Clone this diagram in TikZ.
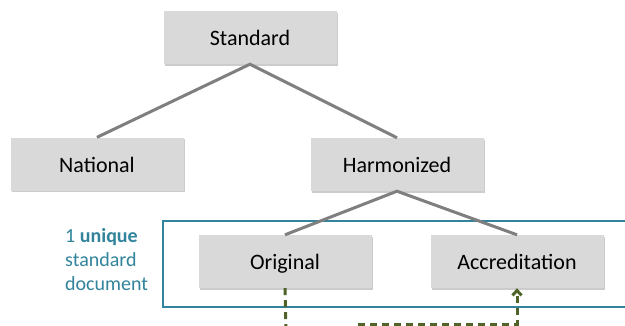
\documentclass[tikz,border=0pt]{standalone}
\usepackage{fontspec}
\setmainfont{Carlito}
\usepackage{tikz}
\usetikzlibrary{arrows.meta, shadows, positioning}
\definecolor{boxfill}{HTML}{D9D9D9}
\definecolor{linkgray}{HTML}{7F7F7F}
\definecolor{frameblue}{HTML}{31849B}
\definecolor{dashgreen}{HTML}{4F6228}

\begin{document}
\begin{tikzpicture}[x=1pt, y=-1pt,
    levelbox/.style={fill=boxfill, minimum width=173pt, minimum height=53pt,
        inner sep=0pt, text height=18pt, text depth=2pt, font=\fontsize{22}{26}\selectfont,
        drop shadow={shadow xshift=1pt, shadow yshift=-1.5pt, fill=black, opacity=0.2}},
    link/.style={linkgray, line width=3pt},
    flow/.style={dashgreen, line width=3pt, dash pattern=on 7pt off 5pt}]
    % Canvas
    \clip (0,0) rectangle (625,325);
    \fill[white] (0,0) rectangle (625,325);
    % Frame round the one standard document
    \draw[frameblue, line width=2pt] (163,221) rectangle (660,307);
    \node[frameblue, align=left, anchor=north west, inner sep=0pt,
        font=\fontsize{20}{24}\selectfont] (note) at (65,228)
        {1 \textbf{unique}\\standard\\document};
    % Boxes
    \node[levelbox] (standard) at (250,37.5) {Standard};
    \node[levelbox] (national) at (97,164) {National};
    \node[levelbox] (harmonized) at (397,164.5) {Harmonized};
    \node[levelbox] (original) at (285,261.5) {Original};
    \node[levelbox] (accreditation) at (517,261.5) {Accreditation};
    % Tree links
    \draw[link] (national.north) -- (standard.south) -- (harmonized.north);
    \draw[link] (original.north) -- (harmonized.south) -- (accreditation.north);
    % Dashed flow
    \coordinate (below) at (286,335);
    \coordinate (turn) at (358,324);
    \draw[flow] (original.south) -- (below);
    \draw[flow, -{Straight Barb[length=5pt, width=9pt]}] (turn) -| (accreditation.south);
\end{tikzpicture}
\end{document}
